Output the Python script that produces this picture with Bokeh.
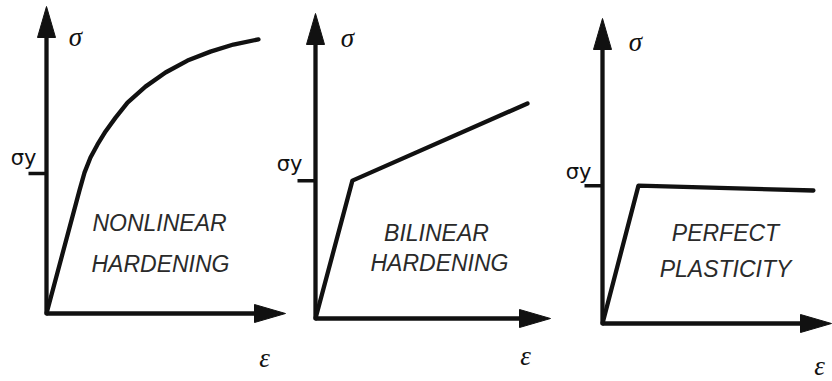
from bokeh.plotting import figure
from bokeh.models import Range1d, Label
from bokeh.embed import file_html
from bokeh.resources import INLINE

# ---------------- data (normalised units: each axis arrow is 10 long) ----------------
nonlinear_strain = [0.0, 1.38, 1.59, 1.84, 2.13, 2.47, 2.89, 3.39, 4.14, 4.98, 5.90, 6.86, 7.82, 8.87]
nonlinear_stress = [0.0, 4.01, 4.59, 5.08, 5.50, 5.93, 6.38, 6.87, 7.39, 7.85, 8.24, 8.53, 8.76, 8.93]
bilinear_strain = [0.0, 1.57, 9.02]
bilinear_stress = [0.0, 4.52, 7.05]
perfect_strain = [0.0, 1.57, 9.21]
perfect_stress = [0.0, 4.52, 4.36]
yield_stress = [4.56, 4.52, 4.52]
axis_length = 10.0
panel_text = [["NONLINEAR", "HARDENING"], ["BILINEAR", "HARDENING"], ["PERFECT", "PLASTICITY"]]
curves = [(nonlinear_strain, nonlinear_stress),
          (bilinear_strain, bilinear_stress),
          (perfect_strain, perfect_stress)]

# ---------------- layout (pixel positions in the 832x381 picture) ----------------
W, H = 832, 381
OFF = 0
origin_px = [(46, 313), (315, 318), (602, 323)]
scale_px = [(23.9, 30.7), (23.5, 30.5), (22.9, 30.5)]
sigma_px = [(75, 36), (347, 37), (635, 41)]
eps_px = [(264, 357), (525, 355), (819, 365)]
sigy_px = [(23, 157), (289, 163), (578, 171)]
text_px = [[(159, 222), (160, 263)], [(436, 232), (439, 262)], [(725, 232), (725, 268)]]

INK = "#111111"
LW = 4.3
HEAD_L, HEAD_W = 31, 18

p = figure(width=W, height=H, output_backend="svg", toolbar_location=None,
           x_range=Range1d(0, W), y_range=Range1d(0, H),
           x_axis_location=None, y_axis_location=None, min_border=0)
p.grid.visible = False
p.outline_line_color = None
p.background_fill_color = "white"
p.border_fill_color = "white"


def to_data(i, px, py):
    ox, oy = origin_px[i]
    sx, sy = scale_px[i]
    return (px - ox) / sx, (oy - py) / sy


for i in range(3):
    ox, oy = origin_px[i]
    sx, sy = scale_px[i]
    name = f"p{i}"
    x0 = -(ox - OFF) / sx
    y0 = -((H + OFF) - oy) / sy
    p.extra_x_ranges[name] = Range1d(x0, x0 + W / sx)
    p.extra_y_ranges[name] = Range1d(y0, y0 + H / sy)
    kw = dict(x_range_name=name, y_range_name=name)

    # axes
    hl_x, hw_x = HEAD_L / sx, HEAD_W / 2 / sy   # x-axis head in data units
    hl_y, hw_y = HEAD_L / sy, HEAD_W / 2 / sx   # y-axis head in data units
    p.line([0, axis_length - hl_x * 0.5], [0, 0], line_width=LW, line_color=INK, **kw)
    p.line([0, 0], [0, axis_length - hl_y * 0.5], line_width=LW, line_color=INK, **kw)
    p.patch([axis_length, axis_length - hl_x, axis_length - hl_x],
            [0, hw_x, -hw_x], fill_color=INK, line_color=INK, line_width=1, **kw)
    p.patch([0, hw_y, -hw_y],
            [axis_length, axis_length - hl_y, axis_length - hl_y],
            fill_color=INK, line_color=INK, line_width=1, **kw)

    # yield tick
    p.line([-18 / sx, 0], [yield_stress[i], yield_stress[i]], line_width=3.5, line_color=INK, **kw)

    # curve
    xs, ys = curves[i]
    p.line(xs, ys, line_width=LW, line_color=INK, line_join="round", line_cap="round", **kw)

    # labels
    sxd, syd = to_data(i, *sigma_px[i])
    p.add_layout(Label(x=sxd, y=syd, text="σ", text_font="Liberation Serif",
                       text_font_style="italic", text_font_size="27px", text_color=INK,
                       text_align="center", text_baseline="middle", **kw))
    exd, eyd = to_data(i, *eps_px[i])
    p.add_layout(Label(x=exd, y=eyd, text="ε", text_font="Liberation Serif",
                       text_font_style="italic", text_font_size="27px", text_color=INK,
                       text_align="center", text_baseline="middle", **kw))
    yxd, yyd = to_data(i, *sigy_px[i])
    p.add_layout(Label(x=yxd, y=yyd, text="σy", text_font="DejaVu Sans",
                       text_font_size="21px", text_color=INK,
                       text_align="center", text_baseline="middle", **kw))
    for j, t in enumerate(panel_text[i]):
        txd, tyd = to_data(i, *text_px[i][j])
        p.add_layout(Label(x=txd, y=tyd, text=t, text_font="Liberation Sans",
                           text_font_style="italic", text_font_size="23px", text_color="#2a2a2a",
                           text_align="center", text_baseline="middle", **kw))

open("out.html", "w").write(file_html(p, INLINE))
